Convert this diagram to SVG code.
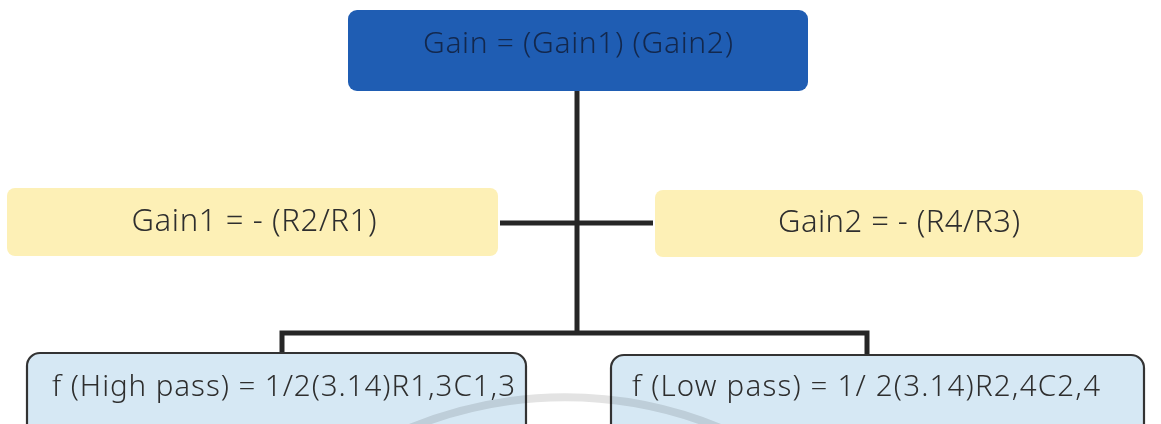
<svg xmlns="http://www.w3.org/2000/svg" width="1161" height="424" viewBox="0 0 1161 424">
  <style>
    .lbl { font-family: "Noto Sans", "Open Sans", sans-serif; font-size: 31px; font-weight: 300; fill: #2e2e2e; }
    .top { fill: #13284d; font-size: 30px; }
    .small { font-size: 29.5px; }
    .wire { stroke: #262626; stroke-width: 5; fill: none; stroke-linecap: butt; }
    .gain { fill: #fdf0b6; }
    .freq { fill: #d6e8f4; stroke: #333333; stroke-width: 2.2; }
    .arc { fill: none; stroke: #e3e3e3; stroke-width: 8; mix-blend-mode: multiply; }
  </style>

  <rect x="0" y="0" width="1161" height="424" fill="#ffffff"/>

  <g id="connectors">
    <line class="wire" x1="577" y1="91" x2="577" y2="335"/>
    <line class="wire" x1="500" y1="223" x2="653" y2="223"/>
    <polyline class="wire" points="282,355 282,333 867,333 867,356"/>
  </g>

  <g id="gain-total">
    <rect x="348" y="10" width="460" height="81" rx="9" fill="#1f5db3"/>
    <text class="lbl top" x="578" y="53" text-anchor="middle" textLength="310" lengthAdjust="spacing">Gain = (Gain1) (Gain2)</text>
  </g>

  <g id="gain1">
    <rect class="gain" x="7" y="188" width="491" height="68" rx="8"/>
    <text class="lbl" x="254" y="231" text-anchor="middle" textLength="245" lengthAdjust="spacing">Gain1 = - (R2/R1)</text>
  </g>

  <g id="gain2">
    <rect class="gain" x="655" y="190" width="488" height="67" rx="8"/>
    <text class="lbl" x="899" y="232" text-anchor="middle" textLength="242" lengthAdjust="spacing">Gain2 = - (R4/R3)</text>
  </g>

  <g id="high-pass">
    <rect class="freq" x="27" y="353" width="499" height="90" rx="13"/>
  </g>

  <g id="low-pass">
    <rect class="freq" x="611" y="355" width="533" height="90" rx="13"/>
  </g>

  <!-- faint background arc, shaded through the lower boxes -->
  <path class="arc" d="M 405 430 A 408 408 0 0 1 725 430"/>

  <g id="high-pass-label">
    <text class="lbl small" x="52" y="396" textLength="463" lengthAdjust="spacing">f (High pass) = 1/2(3.14)R1,3C1,3</text>
  </g>

  <g id="low-pass-label">
    <text class="lbl small" x="632" y="396" textLength="468" lengthAdjust="spacing">f (Low pass) = 1/ 2(3.14)R2,4C2,4</text>
  </g>
</svg>
